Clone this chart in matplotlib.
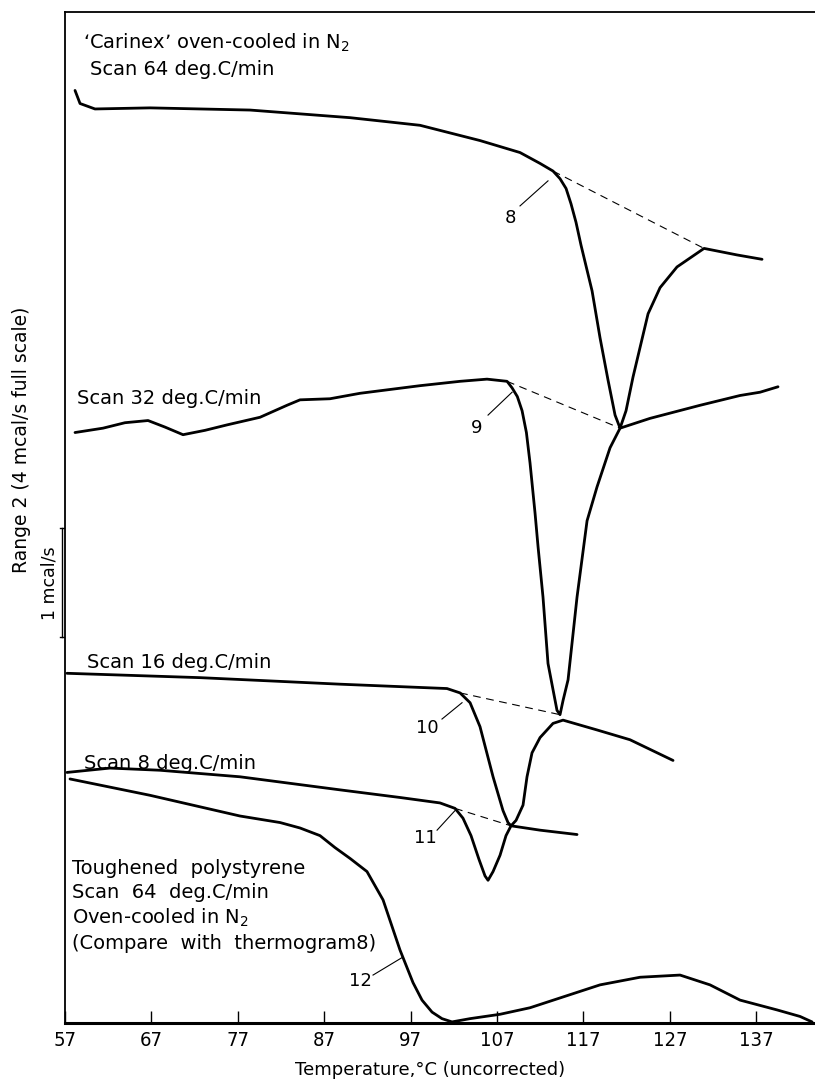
import matplotlib
matplotlib.use("Agg")
import matplotlib.pyplot as plt

# Temperature axis (deg C) and deflection (mcal/s above the base line)
x_ticks = [57, 67, 77, 87, 97, 107, 117, 127, 137]
x_min, x_max = 57.0, 143.8
y_min, y_max = 0.0, 9.28

# Thermogram 8: 'Carinex', scan 64 deg.C/min
t8 = [58.16, 58.74, 60.47, 66.84, 78.41, 89.99, 98.09, 105.03, 109.66, 111.98,
      113.48, 114.29, 114.99, 115.56, 116.14, 116.72, 117.42, 118.00, 118.92,
      119.85, 120.66, 121.24, 121.93, 122.74, 124.48, 125.87, 127.83, 130.96,
      134.78, 137.67]
y8 = [8.56, 8.44, 8.39, 8.40, 8.38, 8.31, 8.24, 8.10, 7.99, 7.89,
      7.82, 7.75, 7.66, 7.52, 7.35, 7.14, 6.91, 6.72, 6.29,
      5.90, 5.58, 5.46, 5.62, 5.93, 6.51, 6.75, 6.94, 7.11,
      7.05, 7.01]

# Thermogram 9: scan 32 deg.C/min
t9 = [58.16, 61.40, 63.94, 66.61, 68.57, 70.66, 73.20, 75.75, 79.57, 82.69,
      84.20, 87.67, 91.14, 98.09, 102.72, 105.84, 108.16, 108.74, 109.35,
      109.90, 110.40, 110.82, 111.40, 111.75, 112.32, 112.90, 113.48, 113.94,
      114.29, 114.64, 115.22, 116.26, 117.42, 118.57, 120.08, 121.24, 124.71,
      130.50, 135.13, 137.44, 139.52]
y9 = [5.42, 5.46, 5.51, 5.53, 5.47, 5.40, 5.44, 5.49, 5.56, 5.67,
      5.72, 5.73, 5.78, 5.85, 5.89, 5.91, 5.89, 5.83, 5.75,
      5.62, 5.42, 5.14, 4.68, 4.37, 3.91, 3.30, 3.06, 2.87,
      2.83, 2.96, 3.15, 3.91, 4.61, 4.92, 5.28, 5.46, 5.55,
      5.67, 5.76, 5.79, 5.84]

# Thermogram 10: scan 16 deg.C/min
t10 = [57.23, 72.63, 88.83, 98.09, 101.21, 102.72, 103.88, 105.03, 106.54,
       107.69, 108.27, 108.62, 109.20, 110.01, 110.47, 111.05, 111.98, 113.48,
       114.64, 118.57, 122.39, 127.37]
y10 = [3.21, 3.17, 3.11, 3.08, 3.07, 3.03, 2.94, 2.72, 2.26,
       1.95, 1.84, 1.81, 1.86, 2.00, 2.26, 2.48, 2.62, 2.75,
       2.78, 2.69, 2.60, 2.41]

# Thermogram 11: scan 8 deg.C/min
t11 = [57.23, 62.21, 67.99, 77.25, 88.83, 95.77, 100.40, 102.14, 103.06, 103.99,
       104.92, 105.61, 105.96, 106.54, 107.35, 108.04, 108.62, 111.98, 116.26]
y11 = [2.30, 2.34, 2.32, 2.26, 2.14, 2.07, 2.02, 1.97, 1.88, 1.72,
       1.50, 1.35, 1.31, 1.39, 1.54, 1.72, 1.81, 1.77, 1.73]

# Thermogram 12: toughened polystyrene, scan 64 deg.C/min
t12 = [57.58, 66.84, 77.25, 81.89, 84.20, 86.51, 88.25, 90.00, 91.95, 93.81,
       95.77, 97.28, 98.32, 99.48, 100.63, 101.79, 103.88, 107.35, 110.82,
       114.29, 118.92, 123.55, 128.18, 131.65, 135.13, 139.41, 142.07, 143.46]
y12 = [2.24, 2.09, 1.90, 1.84, 1.79, 1.72, 1.61, 1.51, 1.39, 1.13,
       0.67, 0.37, 0.21, 0.10, 0.04, 0.01, 0.04, 0.08, 0.14,
       0.23, 0.35, 0.42, 0.44, 0.35, 0.21, 0.12, 0.06, 0.01]

# Dashed base-line constructions (start, end)
base8_t, base8_y = [113.48, 130.96], [7.82, 7.11]
base9_t, base9_y = [108.16, 121.24], [5.89, 5.46]
base10_t, base10_y = [102.72, 114.29], [3.03, 2.83]
base11_t, base11_y = [102.14, 108.62], [1.97, 1.81]

# Thermogram numbers: text position and leader line (from, to)
num_labels = ["8", "9", "10", "11", "12"]
num_text_t = [108.50, 104.69, 98.90, 98.67, 91.14]
num_text_y = [7.39, 5.46, 2.71, 1.70, 0.39]
lead_t = [(109.66, 112.90), (105.96, 108.74), (100.63, 102.95), (100.06, 102.14), (92.65, 96.00)]
lead_y = [(7.50, 7.73), (5.58, 5.79), (2.79, 2.94), (1.77, 1.95), (0.44, 0.60)]

# 1 mcal/s calibration bar
bar_t = 56.65
bar_y = [3.54, 4.54]

W, H = 815, 1083
fig = plt.figure(figsize=(W / 100, H / 100), dpi=100)
ax = fig.add_axes([65 / W, (H - 1023) / H, 750 / W, 1011 / H])
ax.set_xlim(x_min, x_max)
ax.set_ylim(y_min, y_max)

curve_kw = dict(color="black", lw=2.0, solid_capstyle="round", solid_joinstyle="round")
for t, y in [(t8, y8), (t9, y9), (t10, y10), (t11, y11), (t12, y12)]:
    ax.plot(t, y, **curve_kw)

dash_kw = dict(color="black", lw=0.8, dashes=(7, 5))
for t, y in [(base8_t, base8_y), (base9_t, base9_y), (base10_t, base10_y), (base11_t, base11_y)]:
    ax.plot(t, y, **dash_kw)

for lab, tx, ty, lt, ly in zip(num_labels, num_text_t, num_text_y, lead_t, lead_y):
    ax.text(tx, ty, lab, fontsize=13, ha="center", va="center", family="DejaVu Sans")
    ax.plot(lt, ly, color="black", lw=0.8)

# calibration bar with end serifs
ax.plot([bar_t, bar_t], bar_y, color="black", lw=1.0, clip_on=False)
for yy in bar_y:
    ax.plot([bar_t - 0.25, bar_t + 0.25], [yy, yy], color="black", lw=1.0, clip_on=False)
ax.text(bar_t - 1.4, sum(bar_y) / 2, "1 mcal/s", rotation=90, ha="center", va="center",
        fontsize=12.5, clip_on=False)

txt_kw = dict(transform=ax.transAxes, fontsize=14, ha="left", va="center", family="DejaVu Sans")
ax.text(0.024, 0.969, "\u2018Carinex\u2019 oven-cooled in N$_2$", **txt_kw)
ax.text(0.033, 0.943, "Scan 64 deg.C/min", **txt_kw)
ax.text(0.016, 0.618, "Scan 32 deg.C/min", **txt_kw)
ax.text(0.029, 0.357, "Scan 16 deg.C/min", **txt_kw)
ax.text(0.025, 0.257, "Scan 8 deg.C/min", **txt_kw)
ax.text(0.009, 0.153, "Toughened  polystyrene", **txt_kw)
ax.text(0.009, 0.1286, "Scan  64  deg.C/min", **txt_kw)
ax.text(0.009, 0.104, "Oven-cooled in N$_2$", **txt_kw)
ax.text(0.009, 0.079, "(Compare  with  thermogram8)", **txt_kw)

# frame: left, bottom and top only
for side in ("left", "top"):
    ax.spines[side].set_linewidth(1.3)
ax.spines["bottom"].set_linewidth(2.2)
ax.spines["right"].set_visible(False)

ax.set_xticks(x_ticks)
ax.set_xticklabels([str(v) for v in x_ticks],
                   fontdict={"family": ["Liberation Sans Narrow", "DejaVu Sans"],
                             "size": 14.5, "stretch": "condensed"})
ax.tick_params(axis="x", direction="in", length=9, width=1.0, pad=6, top=False)
ax.set_yticks([])

ax.set_xlabel("Temperature,\u00b0C (uncorrected)", fontsize=13, family="DejaVu Sans")
ax.xaxis.set_label_coords(0.487, -0.0465)
ax.xaxis.label.set_va("center")

fig.text(22 / W, 1 - 440 / H, "Range 2 (4 mcal/s full scale)", rotation=90,
         ha="center", va="center", fontsize=13.5, family="DejaVu Sans")

fig.savefig("out.png", dpi=100, facecolor="white")
